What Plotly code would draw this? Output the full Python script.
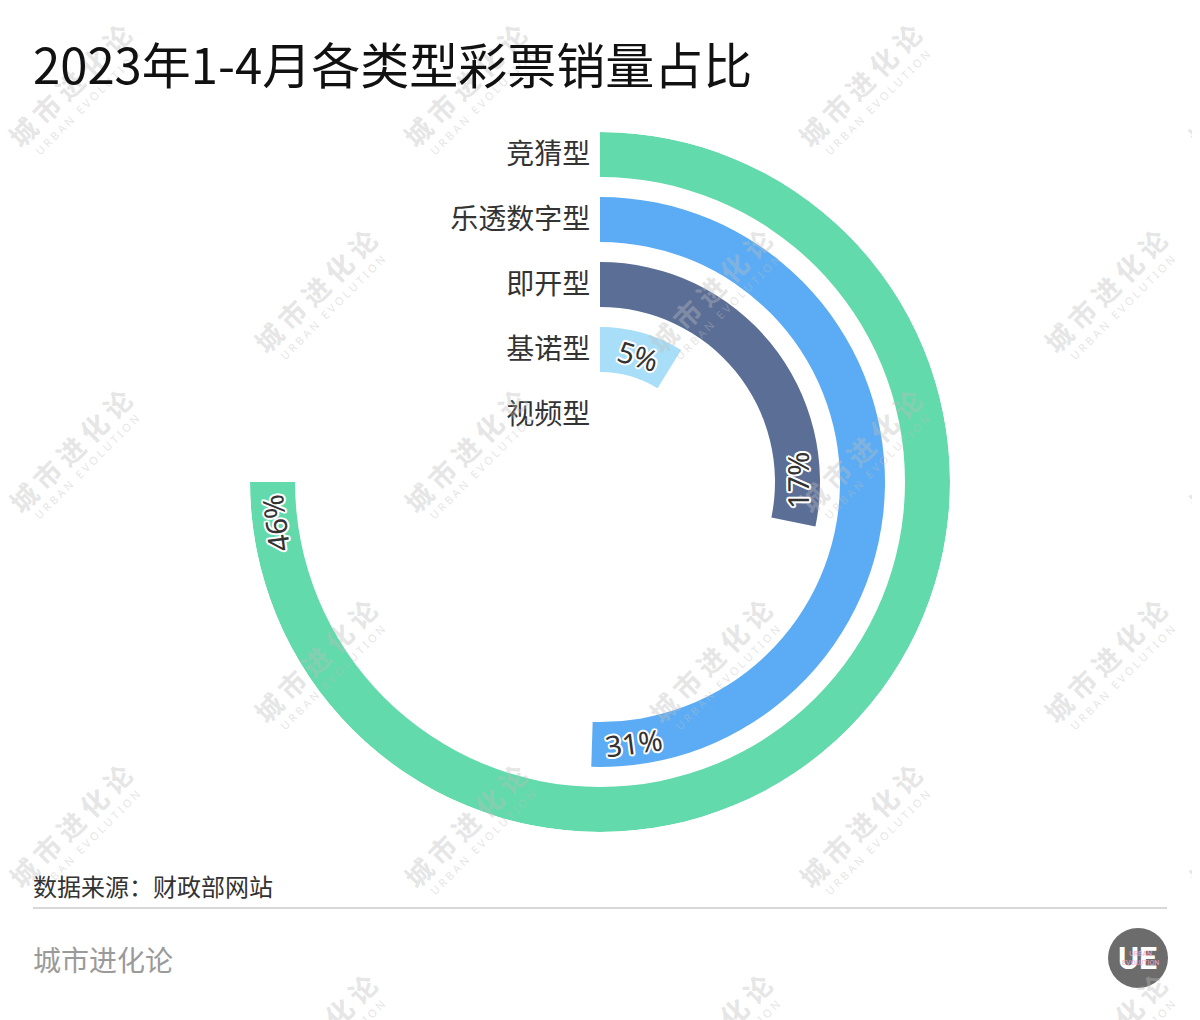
import numpy as np
import plotly.graph_objects as go

# ---------------- data ----------------
categories = ["竞猜型", "乐透数字型", "即开型", "基诺型", "视频型"]
shares = [46.2, 31.1, 17.4, 5.4, 0.0]          # % of sales, Jan-Apr 2023
share_labels = ["46%", "31%", "17%", "5%", ""]
colors = ["#62DAAB", "#5BACF4", "#5B6E96", "#A8DEF8", "#CCCCCC"]

title = "2023年1-4月各类型彩票销量占比"
source = "数据来源：财政部网站"
brand = "城市进化论"

# ---------------- geometry (in ring-band units) ----------------
W, H = 1200, 1020
OFF = 8                               # page body margin of the html
CX, CY, RPX = 600, 482, 350          # polar centre / radius in px
BAND_PX = 65.0                        # one category band
RING_W = 45.0 / BAND_PX               # bar thickness
HOLE = 45.0 / BAND_PX                 # empty centre
N = len(categories)
R_MAX = HOLE + (N - 1) + RING_W
ANG_MAX = max(shares) * 4.0 / 3.0     # largest bar spans 270 degrees

k = np.array([N - 1 - i for i in range(N)], dtype=float)   # 0 = innermost
base = HOLE + k
mid_r = base + RING_W / 2
theta_end = np.array(shares) / ANG_MAX * 360.0

px = lambda x: (x - OFF) / W
py = lambda y: 1 - (y - OFF) / H
dom_x = [px(CX - RPX), px(CX + RPX)]
dom_y = [py(CY + RPX), py(CY - RPX)]

fig = go.Figure()

fig.add_trace(go.Barpolar(
    r=[RING_W] * N, base=base, theta=theta_end / 2, width=theta_end,
    marker=dict(color=colors, line=dict(width=0)),
    hoverinfo="skip", showlegend=False,
))

fig.add_trace(go.Scatterpolar(
    r=mid_r - 0.04, theta=[0] * N, mode="markers+text", text=categories,
    textposition="middle left",
    marker=dict(size=14, color="rgba(0,0,0,0)"),
    textfont=dict(family="Noto Sans CJK SC", size=28, color="#333333"),
    hoverinfo="skip", showlegend=False,
))

fig.update_layout(
    width=W, height=H, margin=dict(l=0, r=0, t=0, b=0),
    paper_bgcolor="white", plot_bgcolor="white",
    polar=dict(
        domain=dict(x=dom_x, y=dom_y), bgcolor="rgba(0,0,0,0)",
        radialaxis=dict(range=[0, R_MAX], visible=False),
        angularaxis=dict(rotation=90, direction="clockwise", visible=False,
                         thetaunit="degrees"),
    ),
    xaxis=dict(domain=dom_x, range=[-R_MAX, R_MAX], visible=False, fixedrange=True),
    yaxis=dict(domain=dom_y, range=[-R_MAX, R_MAX], visible=False, fixedrange=True),
    hovermode=False,
)

annotations = []
shapes = []

# ---------------- watermarks ----------------
wm_centers = [
    (70, 85), (465, 85), (860, 85), (1250, 85),
    (315, 290), (710, 290), (1105, 290),
    (70, 450), (465, 450), (860, 450), (1250, 450),
    (315, 660), (710, 660), (1105, 660),
    (70, 825), (465, 825), (860, 825), (1250, 825),
    (315, 1035), (710, 1035), (1105, 1035),
]
WM_COL = "rgba(190,190,190,0.40)"
for (wx, wy) in wm_centers:
    annotations.append(dict(
        x=px(wx), y=py(wy), xref="paper", yref="paper", showarrow=False,
        text="<b>城 市 进 化 论</b>", textangle=-45,
        font=dict(family="Noto Sans CJK SC", size=27, color=WM_COL),
        xanchor="center", yanchor="middle"))
    annotations.append(dict(
        x=px(wx + 17), y=py(wy + 17), xref="paper", yref="paper", showarrow=False,
        text="U R B A N   E V O L U T I O N", textangle=-45,
        font=dict(family="Noto Sans", size=11, color=WM_COL),
        xanchor="center", yanchor="middle"))

# ---------------- percentage labels ----------------
outline = ("2px 0 0 #fff, -2px 0 0 #fff, 0 2px 0 #fff, 0 -2px 0 #fff, "
           "1.5px 1.5px 0 #fff, -1.5px -1.5px 0 #fff, 1.5px -1.5px 0 #fff, -1.5px 1.5px 0 #fff")
LBL_SIZE = 29
for i in range(N):
    if not share_labels[i]:
        continue
    r_units = mid_r[i]
    r_pix = r_units * BAND_PX
    txt = share_labels[i]
    half_w = (0.56 * (len(txt) - 1) + 0.86) * LBL_SIZE / 2
    off = np.degrees((half_w + 13) / r_pix)
    th = theta_end[i] - off
    if th < 60:
        rot = th
    elif th < 200:
        rot = th - 180
    else:
        rot = th - 360
    t = np.radians(th)
    annotations.append(dict(
        x=r_units * np.sin(t), y=r_units * np.cos(t), xref="x", yref="y",
        text=txt, showarrow=False, textangle=rot,
        xanchor="center", yanchor="middle",
        font=dict(family="Noto Sans", size=LBL_SIZE, color="#333333", shadow=outline)))

# ---------------- title / footer ----------------
annotations.append(dict(
    x=px(31), y=py(62), xref="paper", yref="paper", showarrow=False,
    text=title, xanchor="left", yanchor="middle",
    font=dict(family="Noto Sans CJK SC", size=49, color="#111111")))
annotations.append(dict(
    x=px(31), y=py(885), xref="paper", yref="paper", showarrow=False,
    text=source, xanchor="left", yanchor="middle",
    font=dict(family="Noto Sans CJK SC", size=24, color="#333333")))
annotations.append(dict(
    x=px(31), y=py(959), xref="paper", yref="paper", showarrow=False,
    text=brand, xanchor="left", yanchor="middle",
    font=dict(family="Noto Sans CJK SC", size=28, color="#9A9A9A")))

shapes.append(dict(type="line", xref="paper", yref="paper",
                   x0=px(33), x1=px(1167), y0=py(908), y1=py(908),
                   line=dict(color="#D8D8D8", width=2)))

# logo
shapes.append(dict(type="circle", xref="paper", yref="paper",
                   x0=px(1108), x1=px(1168), y0=py(988), y1=py(928),
                   fillcolor="#6C6C6C", line=dict(width=0)))
annotations.append(dict(
    x=px(1137), y=py(958), xref="paper", yref="paper", showarrow=False,
    text="<b>UE</b>", xanchor="center", yanchor="middle",
    font=dict(family="Roboto", size=32, color="#FFFFFF")))
annotations.append(dict(
    x=px(1140), y=py(958), xref="paper", yref="paper", showarrow=False,
    text="URBAN<br>EVOLUTION", xanchor="center", yanchor="middle",
    font=dict(family="Roboto", size=7, color="#F2A7C6")))

fig.update_layout(annotations=annotations, shapes=shapes)
fig.write_html("out.html")
